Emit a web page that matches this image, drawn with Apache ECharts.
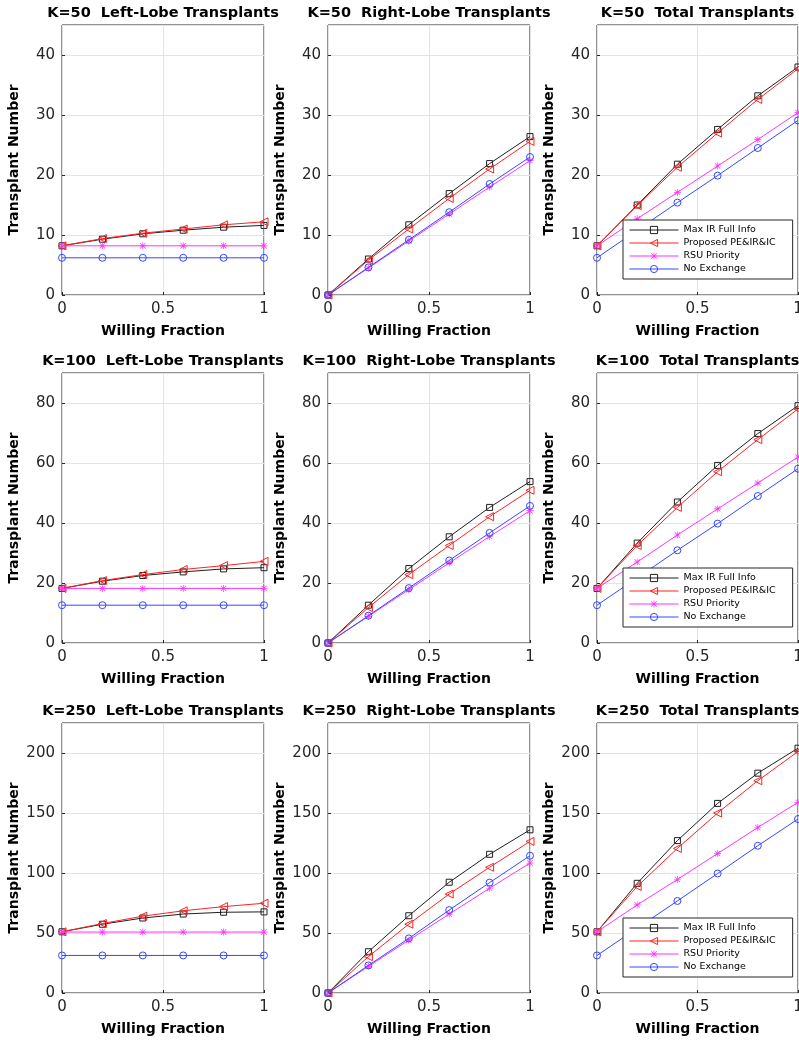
<!DOCTYPE html>
<html><head><meta charset="utf-8">
<script src="https://cdn.jsdelivr.net/npm/echarts/dist/echarts.min.js"></script>
<style>html,body{margin:0;padding:0;background:#fff}#c{width:799px;height:1040px}</style>
</head><body><div id="c"></div>
<script>
// ---------- data ----------
const willing = [0, 0.2, 0.4, 0.6, 0.8, 1];
const seriesNames = ['Max IR Full Info', 'Proposed PE&IR&IC', 'RSU Priority', 'No Exchange'];
const kLabels = ['K=50', 'K=100', 'K=250'];
const panelTitles = ['Left-Lobe Transplants', 'Right-Lobe Transplants', 'Total Transplants'];
const yMaxByK = [45, 90, 225];
const yStepByK = [10, 20, 50];

// K=50
const k50LeftMaxIR     = [8.2, 9.3, 10.2, 10.8, 11.3, 11.6];
const k50LeftProposed  = [8.2, 9.4, 10.3, 11.0, 11.7, 12.2];
const k50LeftRSU       = [8.2, 8.2, 8.2, 8.2, 8.2, 8.2];
const k50LeftNoEx      = [6.2, 6.2, 6.2, 6.2, 6.2, 6.2];
const k50RightMaxIR    = [0, 6.0, 11.7, 16.9, 21.9, 26.4];
const k50RightProposed = [0, 5.8, 11.0, 16.1, 21.0, 25.6];
const k50RightRSU      = [0, 4.5, 9.0, 13.5, 18.0, 22.4];
const k50RightNoEx     = [0, 4.6, 9.2, 13.8, 18.5, 23.0];
const k50TotalMaxIR    = [8.2, 15.0, 21.8, 27.6, 33.2, 38.0];
const k50TotalProposed = [8.2, 14.9, 21.3, 27.0, 32.6, 37.7];
const k50TotalRSU      = [8.2, 12.7, 17.1, 21.5, 25.9, 30.4];
const k50TotalNoEx     = [6.2, 10.8, 15.4, 19.9, 24.5, 29.1];
// K=100
const k100LeftMaxIR     = [18.2, 20.6, 22.5, 23.7, 24.7, 25.1];
const k100LeftProposed  = [18.2, 20.8, 22.8, 24.5, 25.8, 27.2];
const k100LeftRSU       = [18.2, 18.2, 18.2, 18.2, 18.2, 18.2];
const k100LeftNoEx      = [12.6, 12.6, 12.6, 12.6, 12.6, 12.6];
const k100RightMaxIR    = [0, 12.6, 24.8, 35.4, 45.2, 53.8];
const k100RightProposed = [0, 11.8, 22.8, 32.5, 42.1, 50.9];
const k100RightRSU      = [0, 8.9, 17.8, 26.7, 35.5, 44.1];
const k100RightNoEx     = [0, 9.1, 18.3, 27.5, 36.7, 45.7];
const k100TotalMaxIR    = [18.2, 33.3, 47.0, 59.2, 69.8, 79.1];
const k100TotalProposed = [18.2, 32.5, 45.2, 57.1, 67.8, 78.0];
const k100TotalRSU      = [18.2, 27.0, 36.0, 44.7, 53.3, 62.0];
const k100TotalNoEx     = [12.6, 21.7, 30.9, 39.8, 49.0, 58.1];
// K=250
const k250LeftMaxIR     = [51, 57.3, 62.5, 65.8, 67.3, 67.6];
const k250LeftProposed  = [51, 57.9, 64.0, 68.5, 72.0, 74.8];
const k250LeftRSU       = [50.8, 50.8, 50.8, 50.8, 50.8, 50.8];
const k250LeftNoEx      = [31.3, 31.3, 31.3, 31.3, 31.3, 31.3];
const k250RightMaxIR    = [0, 34.4, 64.4, 92.3, 115.6, 136.0];
const k250RightProposed = [0, 30.3, 57.4, 82.5, 104.8, 126.3];
const k250RightRSU      = [0, 22.2, 44.0, 65.8, 87.3, 108.3];
const k250RightNoEx     = [0, 23.0, 45.5, 69.1, 92.0, 114.4];
const k250TotalMaxIR    = [51, 91.4, 127.0, 158.0, 183.2, 204.0];
const k250TotalProposed = [51, 88.8, 120.5, 150.0, 176.9, 201.2];
const k250TotalRSU      = [51, 73.4, 94.6, 116.2, 137.9, 158.9];
const k250TotalNoEx     = [31.3, 54.0, 76.7, 99.6, 122.7, 145.0];

const panels = [
  [[k50LeftMaxIR, k50LeftProposed, k50LeftRSU, k50LeftNoEx],
   [k50RightMaxIR, k50RightProposed, k50RightRSU, k50RightNoEx],
   [k50TotalMaxIR, k50TotalProposed, k50TotalRSU, k50TotalNoEx]],
  [[k100LeftMaxIR, k100LeftProposed, k100LeftRSU, k100LeftNoEx],
   [k100RightMaxIR, k100RightProposed, k100RightRSU, k100RightNoEx],
   [k100TotalMaxIR, k100TotalProposed, k100TotalRSU, k100TotalNoEx]],
  [[k250LeftMaxIR, k250LeftProposed, k250LeftRSU, k250LeftNoEx],
   [k250RightMaxIR, k250RightProposed, k250RightRSU, k250RightNoEx],
   [k250TotalMaxIR, k250TotalProposed, k250TotalRSU, k250TotalNoEx]]
];

// ---------- layout / style ----------
const FONT = "'DejaVu Sans', 'Liberation Sans', Arial, sans-serif";
const AX = '#262626';
const colLeft = [62, 328, 597];
const colWidth = [202, 202, 201];
const rowTop = [25, 373, 723];
const rowHeight = 270;
const ASTERISK = 'path://M9,0L11,0L11,20L9,20Z M0,9L20,9L20,11L0,11Z M1.6,3L3,1.6L18.4,17L17,18.4Z M17,1.6L18.4,3L3,18.4L1.6,17Z';
const markStyles = [
  { color: '#1f1f1f', symbol: 'rect', size: 6, rotate: 0, hollow: true },
  { color: '#ff2222', symbol: 'triangle', size: 8, rotate: 90, hollow: true },
  { color: '#ff33ff', symbol: ASTERISK, size: 7, rotate: 0, hollow: false },
  { color: '#3348ff', symbol: 'circle', size: 7, rotate: 0, hollow: true }
];
function markItemStyle(m) {
  return m.hollow
    ? { color: 'rgba(255,255,255,0)', borderColor: m.color, borderWidth: 1 }
    : { color: m.color, borderColor: m.color, borderWidth: 0 };
}

const grid = [], xAxis = [], yAxis = [], series = [], title = [], legend = [];
let gi = 0;
for (let r = 0; r < 3; r++) {
  for (let c = 0; c < 3; c++) {
    grid.push({
      left: colLeft[c], top: rowTop[r], width: colWidth[c], height: rowHeight,
      show: true, borderColor: AX, borderWidth: 1, backgroundColor: '#fff',
      containLabel: false, outerBoundsMode: 'none'
    });
    xAxis.push({
      type: 'value', gridIndex: gi, min: 0, max: 1, interval: 0.5,
      name: 'Willing Fraction', nameLocation: 'middle', nameGap: 29, nameMoveOverlap: false,
      nameTextStyle: { fontFamily: FONT, fontWeight: 'bold', fontSize: 14, color: '#000' },
      axisLine: { show: false },
      axisTick: { show: true, inside: true, length: 3, lineStyle: { color: AX } },
      axisLabel: { fontFamily: FONT, fontSize: 15, color: AX, margin: 7,
        formatter: v => String(v) },
      splitLine: { show: true, lineStyle: { color: '#e3e3e3', width: 1 } }
    });
    yAxis.push({
      type: 'value', gridIndex: gi, min: 0, max: yMaxByK[r], interval: yStepByK[r],
      name: 'Transplant Number', nameLocation: 'middle', nameGap: 41, nameMoveOverlap: false,
      nameTextStyle: { fontFamily: FONT, fontWeight: 'bold', fontSize: 14, color: '#000' },
      axisLine: { show: false },
      axisTick: { show: true, inside: true, length: 3, lineStyle: { color: AX } },
      axisLabel: { fontFamily: FONT, fontSize: 15, color: AX, margin: 7, showMaxLabel: false,
        formatter: v => (v % yStepByK[r] === 0 ? String(v) : '') },
      splitLine: { show: true, lineStyle: { color: '#e3e3e3', width: 1 } }
    });
    title.push({
      text: kLabels[r] + '  ' + panelTitles[c],
      left: colLeft[c] + colWidth[c] / 2, top: rowTop[r] - 19, textAlign: 'center', padding: 0,
      textStyle: { fontFamily: FONT, fontWeight: 'bold', fontSize: 14.5, color: '#000' }
    });
    const vals = panels[r][c];
    for (let s = 0; s < 4; s++) {
      const m = markStyles[s];
      series.push({
        type: 'line', name: seriesNames[s], xAxisIndex: gi, yAxisIndex: gi,
        data: willing.map((x, i) => [x, vals[s][i]]),
        symbol: m.symbol, symbolSize: m.size, symbolRotate: m.rotate,
        showAllSymbol: true, clip: false,
        lineStyle: { color: m.color, width: 1 },
        itemStyle: markItemStyle(m),
        emphasis: { disabled: true }, silent: true, z: 2 + s
      });
    }
    gi++;
  }
  legend.push({
    orient: 'vertical', left: 623, top: rowTop[r] + 195,
    data: seriesNames.map((n, s) => ({
      name: n,
      itemStyle: markItemStyle(markStyles[s]),
      lineStyle: { color: markStyles[s].color, width: 1 }
    })),
    padding: [5, 17, 5, 6], itemGap: 3,
    itemWidth: 49, itemHeight: 9,
    backgroundColor: '#fff', borderColor: AX, borderWidth: 1, borderRadius: 0,
    textStyle: { fontFamily: FONT, fontSize: 9.5, color: '#000' },
    selectedMode: false, z: 10
  });
}

const chart = echarts.init(document.getElementById('c'), null, { renderer: 'canvas' });
chart.setOption({
  animation: false, backgroundColor: '#fff',
  title, grid, xAxis, yAxis, series, legend
});
</script></body></html>
